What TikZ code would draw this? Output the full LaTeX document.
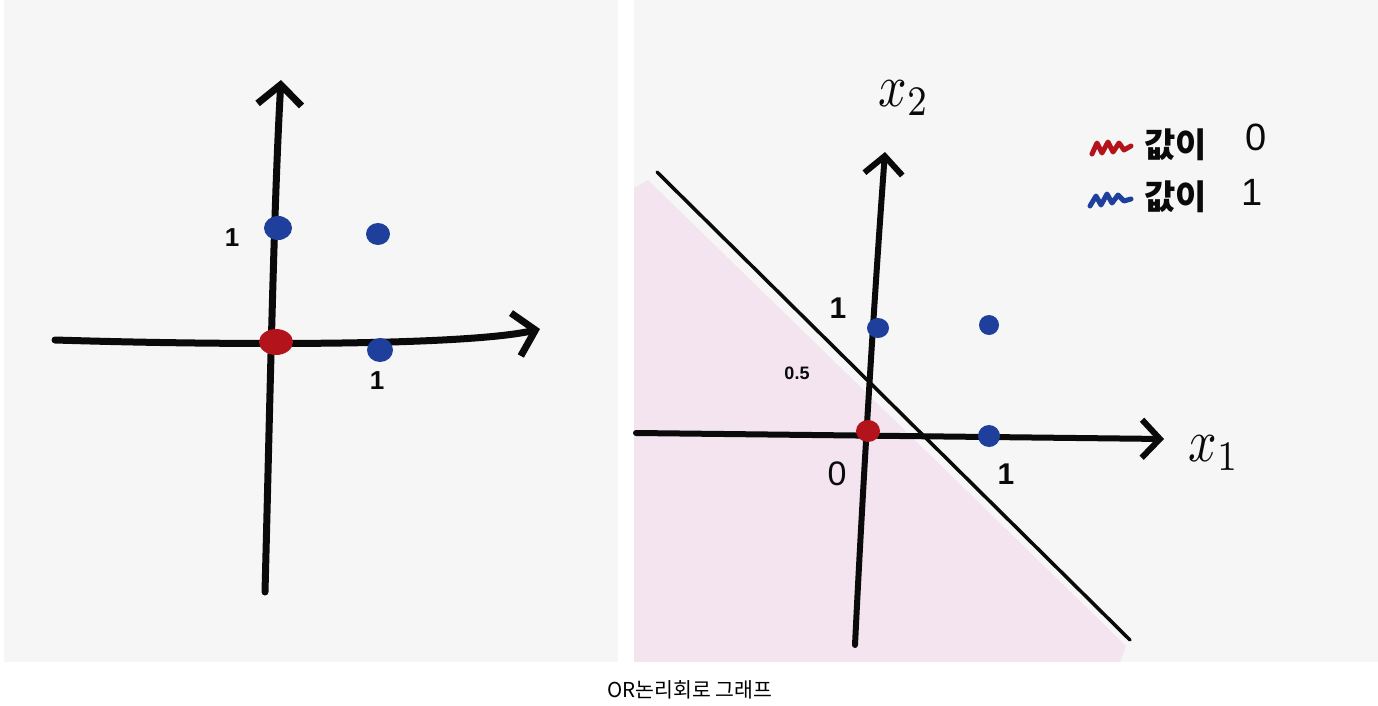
\documentclass[tikz,border=0pt]{standalone}
\usepackage{fontspec}
\newfontfamily\krfont{Noto Sans CJK KR}
\newfontfamily\handfont{Liberation Sans}
\usetikzlibrary{arrows.meta}
\definecolor{panelbg}{HTML}{F6F6F6}
\definecolor{pinkfill}{HTML}{F3E4EF}
\definecolor{dotblue}{HTML}{1F3F9C}
\definecolor{dotred}{HTML}{B3141C}
\definecolor{inkblack}{HTML}{0A0A0A}
\tikzset{
  axisline/.style={draw=inkblack, line width=7pt, line cap=round, line join=round,
    -{Straight Barb[length=20pt,width=44pt]}},
  raxisline/.style={draw=inkblack, line width=6pt, line cap=round, line join=round,
    -{Straight Barb[length=18pt,width=38pt]}},
  bdot/.style={fill=dotblue, draw=none},
  rdot/.style={fill=dotred, draw=none},
  tick/.style={text=inkblack, inner sep=0pt, font=\handfont\bfseries\fontsize{26}{26}\selectfont},
  axlabel/.style={text=inkblack, inner sep=0pt},
  legendtxt/.style={text=inkblack, inner sep=0pt, anchor=west, font=\krfont\bfseries\fontsize{34}{36}\selectfont},
  legendnum/.style={text=inkblack, inner sep=0pt, font=\handfont\fontsize{38}{40}\selectfont},
  squiggle/.style={line width=5pt, line cap=round, line join=round},
}
\begin{document}
\begin{tikzpicture}[x=1pt,y=-1pt]
\useasboundingbox (0,0) rectangle (1378,706);
\fill[white] (0,0) rectangle (1378,706);
% panels
\fill[panelbg] (4,0) rectangle (618,662);
\fill[panelbg] (634,0) rectangle (1378,662);

% ---------- left panel ----------
\coordinate (lxs) at (55,340);
\coordinate (lxe) at (540,329);
\coordinate (lys) at (265,592);
\coordinate (lye) at (281,80);
\draw[axisline] (lxs) .. controls (250,346) and (470,345) .. (lxe);
\draw[axisline] (lys) .. controls (270,400) and (274,200) .. (lye);
\fill[bdot] (278,228) ellipse (14pt and 12pt);
\fill[bdot] (378,234) ellipse (12pt and 11pt);
\fill[bdot] (380,350) ellipse (13pt and 12pt);
\fill[rdot] (276,342) ellipse (17pt and 13pt);
\node[tick] (l1y) at (232,238) {1};
\node[tick] (l1x) at (377,381) {1};

% ---------- right panel ----------
\fill[pinkfill] (648,180) -- (1126,646) -- (1120,662) -- (634,662) -- (634,188) -- cycle;
\coordinate (ls) at (657,172);
\coordinate (le) at (1130,640);
\draw[inkblack, line width=3.5pt, line cap=round] (ls) -- (le);
\coordinate (rxs) at (636,433);
\coordinate (rxe) at (1164,439);
\coordinate (rys) at (855,645);
\coordinate (rye) at (885,152);
\draw[raxisline] (rxs) -- (rxe);
\draw[raxisline] (rys) .. controls (862,500) and (874,300) .. (rye);
\fill[bdot] (878,328) ellipse (11pt and 10pt);
\fill[bdot] (989,325) ellipse (10pt and 10pt);
\fill[bdot] (989,436) ellipse (11pt and 11pt);
\fill[rdot] (868,431) ellipse (12pt and 11pt);
\node[tick, font=\handfont\bfseries\fontsize{30}{30}\selectfont] (r1y) at (838,308) {1};
\node[tick, font=\handfont\bfseries\fontsize{18}{18}\selectfont] (r05) at (797,373) {0.5};
\node[tick, font=\handfont\fontsize{34}{34}\selectfont] (r0) at (837,474) {0};
\node[tick, font=\handfont\bfseries\fontsize{30}{30}\selectfont] (r1x) at (1006,474) {1};
\node[axlabel] (x2lab) at (904,98) {\scalebox{5}[6]{$x_2$}};
\node[axlabel] (x1lab) at (1214,453) {\scalebox{5}[6]{$x_1$}};

% legend
\draw[dotred, squiggle] (1092,154) -- (1097,143) -- (1102,153) -- (1108,142) -- (1113,152) -- (1119,143) -- (1124,150) -- (1131,146);
\draw[dotblue, squiggle] (1090,206) -- (1096,196) -- (1101,205) -- (1107,194) -- (1112,203) -- (1118,195) -- (1124,201) -- (1131,199);
\node[legendtxt] (leg0) at (1144,145) {값이};
\node[legendnum] (leg0n) at (1256,137) {0};
\node[legendtxt] (leg1) at (1144,197) {값이};
\node[legendnum] (leg1n) at (1252,192) {1};

% caption
\node[text=black, inner sep=0pt, font=\krfont\fontsize{20.5}{24}\selectfont] (cap) at (690,690) {OR논리회로 그래프};
\end{tikzpicture}
\end{document}
